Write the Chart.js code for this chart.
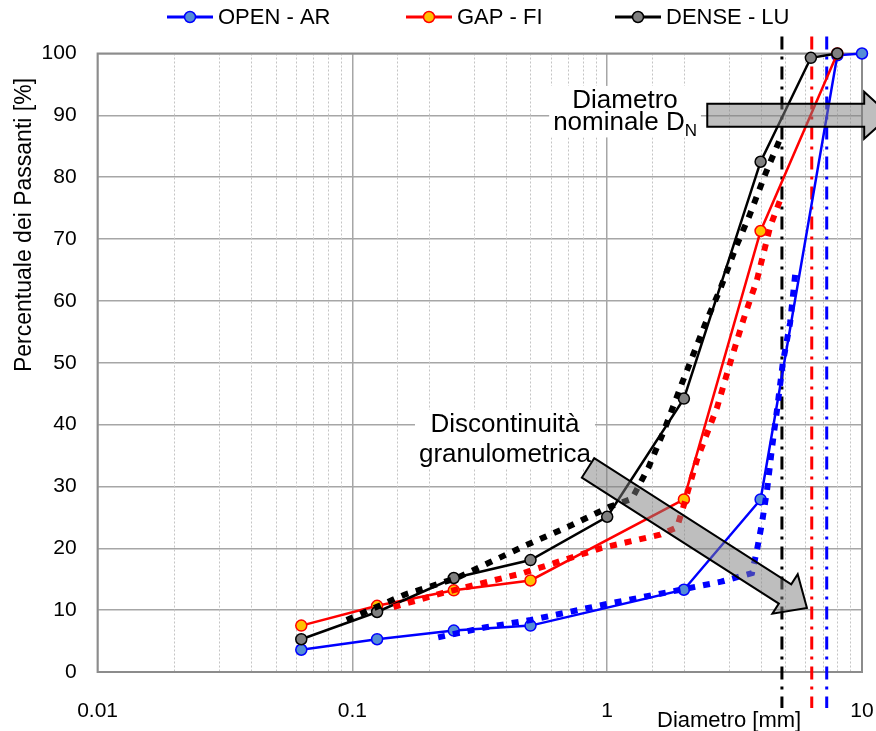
<!DOCTYPE html>
<html>
<head>
<meta charset="utf-8">
<title>Curve granulometriche</title>
<script src="https://cdn.jsdelivr.net/npm/chart.js@4.4.1/dist/chart.umd.min.js"></script>
<style>
  html, body { margin: 0; padding: 0; background: #fff; }
  #wrap { width: 876px; height: 731px; }
</style>
</head>
<body>
<div id="wrap"><canvas id="c" width="876" height="731"></canvas></div>
<script>
// ---- data ---------------------------------------------------------------
const seriesNames = ['OPEN - AR', 'GAP - FI', 'DENSE - LU'];

// sieve opening [mm] and percentage passing, per mix
const openSieves   = [0.063, 0.125, 0.25, 0.5, 2, 4, 8, 10];
const openPassing  = [3.6, 5.3, 6.7, 7.5, 13.3, 27.9, 99.7, 100];
const gapSieves    = [0.063, 0.125, 0.25, 0.5, 2, 4, 8];
const gapPassing   = [7.5, 10.7, 13.2, 14.8, 27.9, 71.3, 100];
const denseSieves  = [0.063, 0.125, 0.25, 0.5, 1, 2, 4, 6.3, 8];
const densePassing = [5.3, 9.7, 15.2, 18.1, 25.1, 44.2, 82.5, 99.3, 100];

// reference curves (dotted)
const openRefSieves   = [0.217, 0.33, 0.5, 1, 2, 2.8, 3.7, 3.87, 4.05, 4.24, 4.44, 4.64, 4.89, 5.22, 5.5];
const openRefPassing  = [5.6, 7.2, 8.4, 11.0, 13.4, 14.6, 16.0, 19.7, 24.1, 29.4, 36.4, 42.4, 50.0, 56.4, 65.3];
const gapRefSieves    = [0.145, 0.227, 0.468, 0.94, 1.61, 1.88, 1.99, 2.25, 2.70, 3.04, 3.42, 3.87, 4.36, 4.77];
const gapRefPassing   = [10.5, 12.8, 16.0, 20.0, 22.2, 23.4, 26.7, 34.3, 42.8, 50.0, 56.9, 63.4, 72.0, 76.3];
const denseRefSieves  = [0.095, 0.16, 0.257, 0.48, 0.73, 1.02, 1.25, 1.45, 1.67, 2.0, 2.46, 2.77, 3.2, 3.6, 4.2, 4.75];
const denseRefPassing = [8.4, 12.5, 15.2, 20.5, 23.8, 26.7, 28.0, 33.0, 39.0, 47.5, 56.9, 61.8, 68.7, 73.6, 80.8, 86.0];

// nominal diameter D_N [mm] of each mix (OPEN, GAP, DENSE)
const nominalDiameters = [7.27, 6.35, 4.85];

// axis ticks
const xTickValues = [0.01, 0.1, 1, 10];
const xTickLabels = ['0.01', '0.1', '1', '10'];
const yMin = 0, yMax = 100, yStep = 10;

// ---- styling --------------------------------------------------------------
const FONT = "'Liberation Sans', Arial, Helvetica, sans-serif";
Chart.defaults.font.family = FONT;
Chart.defaults.color = '#000';

const MAJOR_GRID = '#A6A6A6';
const MINOR_GRID = '#C4C4C4';
const PLOT_BORDER = '#8C8C8C';
const styles = [
  { line: '#0000FF', fill: '#558ED5' },   // OPEN
  { line: '#FF0000', fill: '#FFC000' },   // GAP
  { line: '#000000', fill: '#808080' }    // DENSE
];

const isDecade = v => Math.abs(Math.log10(v) - Math.round(Math.log10(v))) < 1e-6;
const toPoints = (xs, ys) => xs.map((v, i) => ({ x: v, y: ys[i] }));

const solidSet = (label, pts, st) => ({
  label, data: pts,
  borderColor: st.line, backgroundColor: st.fill,
  borderWidth: 2.5, tension: 0, clip: false,
  pointRadius: 5.5, pointHoverRadius: 5.5, pointBorderWidth: 1.5,
  pointBorderColor: st.line, pointBackgroundColor: st.fill
});
const dottedSet = (label, pts, color) => ({
  label, data: pts,
  borderColor: color, borderWidth: 6, borderDash: [7, 8], borderCapStyle: 'butt',
  tension: 0, clip: false, pointRadius: 0, pointHoverRadius: 0
});

// annotations, anchored in data coordinates
const arrows = [
  { from: [2.47, 90], to: [12.9, 90] },
  { from: [0.841, 33.0], to: [6.08, 10.35] }
];
const notes = [
  { x: 1.175, y: 91.2, step: 22.5,
    lines: [[{ text: 'Diametro' }], [{ text: 'nominale D' }, { text: 'N', sub: true }]] },
  { x: 0.397, y: 38.8, step: 30,
    lines: [[{ text: 'Discontinuità' }], [{ text: 'granulometrica' }]] }
];

function drawArrow(ctx, x0, y0, x1, y1, bodyHalf, headHalf, headLen) {
  const dx = x1 - x0, dy = y1 - y0, L = Math.hypot(dx, dy);
  const ux = dx / L, uy = dy / L, nx = -uy, ny = ux;
  const bx = x1 - ux * headLen, by = y1 - uy * headLen;
  const pts = [
    [x0 + nx * bodyHalf, y0 + ny * bodyHalf],
    [bx + nx * bodyHalf, by + ny * bodyHalf],
    [bx + nx * headHalf, by + ny * headHalf],
    [x1, y1],
    [bx - nx * headHalf, by - ny * headHalf],
    [bx - nx * bodyHalf, by - ny * bodyHalf],
    [x0 - nx * bodyHalf, y0 - ny * bodyHalf]
  ];
  ctx.beginPath();
  pts.forEach((p, i) => i ? ctx.lineTo(p[0], p[1]) : ctx.moveTo(p[0], p[1]));
  ctx.closePath();
  ctx.fillStyle = 'rgba(125,125,125,0.5)';
  ctx.fill();
  ctx.lineJoin = 'miter';
  ctx.lineWidth = 2;
  ctx.strokeStyle = '#000';
  ctx.stroke();
}

const decorations = {
  id: 'decorations',
  beforeDatasetsDraw(chart) {
    const { ctx, chartArea: a, scales: { x } } = chart;
    ctx.save();
    // minor (dotted) vertical grid
    ctx.strokeStyle = MINOR_GRID;
    ctx.lineWidth = 1;
    ctx.setLineDash([2, 2]);
    x.ticks.forEach(t => {
      if (isDecade(t.value)) return;
      const px = Math.round(x.getPixelForValue(t.value)) + 0.5;
      ctx.beginPath(); ctx.moveTo(px, a.top); ctx.lineTo(px, a.bottom); ctx.stroke();
    });
    ctx.setLineDash([]);
    // plot frame
    ctx.strokeStyle = PLOT_BORDER;
    ctx.lineWidth = 2;
    ctx.strokeRect(a.left, a.top, a.right - a.left, a.bottom - a.top);
    // nominal diameter markers (dash-dot), running past the plot frame
    ctx.lineWidth = 3;
    ctx.setLineDash([13, 7, 3, 7]);
    nominalDiameters.forEach((d, i) => {
      const px = x.getPixelForValue(d);
      ctx.strokeStyle = styles[i].line;
      ctx.beginPath(); ctx.moveTo(px, a.top - 17); ctx.lineTo(px, a.bottom + 36); ctx.stroke();
    });
    ctx.restore();
  },
  afterDatasetsDraw(chart) {
    const { ctx, scales: { x, y } } = chart;
    ctx.save();
    // text boxes (white background)
    notes.forEach(n => {
      const cx = x.getPixelForValue(n.x), by0 = y.getPixelForValue(n.y);
      const rows = n.lines.map(runs => {
        let w = 0;
        const parts = runs.map(r => {
          ctx.font = (r.sub ? 17 : 26) + 'px ' + FONT;
          const rw = ctx.measureText(r.text).width;
          const p = { ...r, w: rw, off: w };
          w += rw;
          return p;
        });
        return { parts, w };
      });
      const maxW = Math.max(...rows.map(r => r.w));
      const top = by0 - 22, bottom = by0 + n.step * (rows.length - 1) + 7;
      ctx.fillStyle = '#fff';
      ctx.fillRect(cx - maxW / 2 - 4, top, maxW + 8, bottom - top);
      ctx.fillStyle = '#000';
      ctx.textBaseline = 'alphabetic';
      ctx.textAlign = 'left';
      rows.forEach((row, i) => {
        const bl = by0 + n.step * i;
        const left = cx - row.w / 2;
        row.parts.forEach(p => {
          ctx.font = (p.sub ? 17 : 26) + 'px ' + FONT;
          ctx.fillText(p.text, left + p.off, bl + (p.sub ? 6 : 0));
        });
      });
    });
    // block arrows
    arrows.forEach(ar => {
      drawArrow(ctx,
        x.getPixelForValue(ar.from[0]), y.getPixelForValue(ar.from[1]),
        x.getPixelForValue(ar.to[0]), y.getPixelForValue(ar.to[1]),
        11.5, 23.5, 26);
    });
    ctx.restore();
  },
  afterDraw(chart) {
    const { ctx, chartArea: a } = chart;
    ctx.save();
    // legend: line + marker + name
    const starts = [167, 406, 615];
    const ly = 17;
    ctx.font = '22px ' + FONT;
    ctx.textBaseline = 'middle';
    ctx.textAlign = 'left';
    seriesNames.forEach((name, i) => {
      const s = starts[i], st = styles[i];
      ctx.strokeStyle = st.line;
      ctx.lineWidth = 3;
      ctx.beginPath(); ctx.moveTo(s, ly); ctx.lineTo(s + 46, ly); ctx.stroke();
      ctx.beginPath(); ctx.arc(s + 23, ly, 5.5, 0, Math.PI * 2);
      ctx.fillStyle = st.fill; ctx.fill();
      ctx.lineWidth = 1.5; ctx.stroke();
      ctx.fillStyle = '#000';
      ctx.fillText(name, s + 51, ly + 1);
    });
    // axis titles
    ctx.textBaseline = 'alphabetic';
    ctx.font = '22px ' + FONT;
    ctx.fillText('Diametro [mm]', 657, a.bottom + 55);
    ctx.translate(30.5, 225);
    ctx.rotate(-Math.PI / 2);
    ctx.textAlign = 'center';
    ctx.font = '23px ' + FONT;
    ctx.fillText('Percentuale dei Passanti [%]', 0, 0);
    ctx.restore();
  }
};

new Chart(document.getElementById('c'), {
  type: 'line',
  data: {
    datasets: [
      dottedSet('DENSE - LU rif.', toPoints(denseRefSieves, denseRefPassing), styles[2].line),
      dottedSet('GAP - FI rif.', toPoints(gapRefSieves, gapRefPassing), styles[1].line),
      dottedSet('OPEN - AR rif.', toPoints(openRefSieves, openRefPassing), styles[0].line),
      solidSet(seriesNames[2], toPoints(denseSieves, densePassing), styles[2]),
      solidSet(seriesNames[1], toPoints(gapSieves, gapPassing), styles[1]),
      solidSet(seriesNames[0], toPoints(openSieves, openPassing), styles[0])
    ]
  },
  options: {
    responsive: false,
    animation: false,
    devicePixelRatio: 1,
    layout: { padding: { left: 0, right: 14, top: 53.5, bottom: 0 } },
    plugins: { legend: { display: false }, tooltip: { enabled: false } },
    scales: {
      x: {
        type: 'logarithmic',
        min: xTickValues[0], max: xTickValues[xTickValues.length - 1],
        afterFit: s => { s.height = 59; s.paddingLeft = 0; s.paddingRight = 0; },
        border: { display: false },
        grid: {
          drawTicks: false, lineWidth: 1.5,
          color: c => (c.tick && isDecade(c.tick.value)) ? MAJOR_GRID : 'rgba(0,0,0,0)'
        },
        ticks: {
          autoSkip: false, maxRotation: 0, padding: 27,
          font: { size: 21 }, color: '#000',
          callback: v => {
            const i = xTickValues.findIndex(t => Math.abs(t - v) < 1e-9);
            return i >= 0 ? xTickLabels[i] : '';
          }
        }
      },
      y: {
        min: yMin, max: yMax,
        afterFit: s => { s.width = 97.6; s.paddingTop = 0; s.paddingBottom = 0; },
        border: { display: false },
        grid: { drawTicks: false, lineWidth: 1.5, color: MAJOR_GRID },
        ticks: { stepSize: yStep, padding: 21, font: { size: 21 }, color: '#000' }
      }
    }
  },
  plugins: [decorations]
});
</script>
</body>
</html>
